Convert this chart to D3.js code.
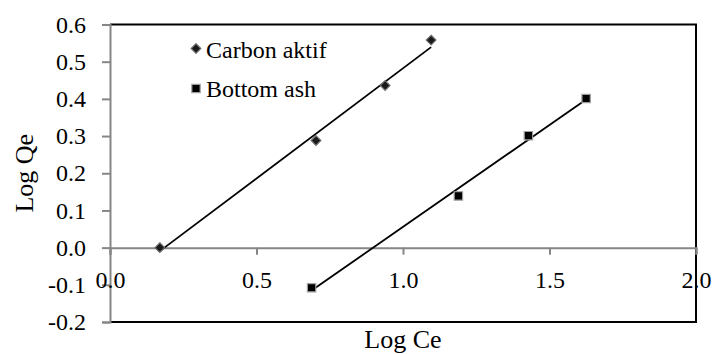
<!DOCTYPE html>
<html>
<head>
<meta charset="utf-8">
<script src="https://cdn.jsdelivr.net/npm/d3@7"></script>
<style>
  html, body { margin: 0; padding: 0; background: #fff; }
  svg text { fill: #000; }
</style>
</head>
<body>
<div id="chart"></div>
<script>
// Log Ce / Log Qe points
const carbonX = [0.17, 0.703, 0.939, 1.096];
const carbonY = [0.0, 0.288, 0.436, 0.558];
const ashX = [0.688, 1.189, 1.428, 1.625];
const ashY = [-0.108, 0.139, 0.301, 0.401];
const seriesNames = ["Carbon aktif", "Bottom ash"];
const xTicks = [0.0, 0.5, 1.0, 1.5, 2.0];
const yTicks = [-0.2, -0.1, 0.0, 0.1, 0.2, 0.3, 0.4, 0.5, 0.6];

(function() {
  const fullW = 713, fullH = 354;
  const left = 110, right = 696, top = 24.5, bottom = 322;
  const FONT = "'Liberation Serif', 'Times New Roman', serif";

  const svg = d3.select("#chart").append("svg")
    .attr("width", fullW).attr("height", fullH)
    .style("font-family", FONT);

  const x = d3.scaleLinear().domain([0, 2]).range([left, right]);
  const y = d3.scaleLinear().domain([-0.2, 0.6]).range([bottom, top]);
  // plain hyphen for negatives, like the original
  const fmt = v => d3.format(".1f")(v).replace("\u2212", "-");

  // frame: top, right, bottom in black
  svg.append("path")
    .attr("d", `M${left},${top}H${right}V${bottom}H${left}`)
    .attr("fill", "none").attr("stroke", "#000").attr("stroke-width", 2);

  function styleAxis(ax) {
    ax.select(".domain").attr("stroke", "#868686").attr("stroke-width", 2);
    ax.selectAll(".tick line").attr("stroke", "#868686").attr("stroke-width", 2);
    ax.selectAll(".tick text")
      .style("font-family", FONT)
      .style("font-size", "24px")
      .attr("fill", "#000");
  }

  // y axis (gray)
  const yAxis = svg.append("g")
    .attr("transform", `translate(${left},0)`)
    .call(d3.axisLeft(y).tickValues(yTicks).tickFormat(fmt).tickSize(8).tickPadding(16));
  styleAxis(yAxis);

  // x axis at y = 0 (gray), labels below
  const xAxis = svg.append("g")
    .attr("transform", `translate(0,${y(0)})`)
    .call(d3.axisBottom(x).tickValues(xTicks).tickFormat(fmt).tickSize(7).tickPadding(16));
  styleAxis(xAxis);

  // axis titles
  svg.append("text")
    .attr("x", 403).attr("y", 348)
    .attr("text-anchor", "middle")
    .style("font-size", "26px")
    .text("Log Ce");

  svg.append("text")
    .attr("transform", `translate(33,${(top + bottom) / 2}) rotate(-90)`)
    .attr("text-anchor", "middle")
    .style("font-size", "26px")
    .text("Log Qe");

  // linear trendlines from least squares fit
  function fit(xs, ys) {
    const mx = d3.mean(xs), my = d3.mean(ys);
    let sxy = 0, sxx = 0;
    xs.forEach((v, i) => { sxy += (v - mx) * (ys[i] - my); sxx += (v - mx) * (v - mx); });
    const b = sxy / sxx, a = my - b * mx;
    const x0 = d3.min(xs), x1 = d3.max(xs);
    return [[x0, a + b * x0], [x1, a + b * x1]];
  }

  const line = d3.line().x(d => x(d[0])).y(d => y(d[1]));
  [[carbonX, carbonY], [ashX, ashY]].forEach(([xs, ys]) => {
    svg.append("path")
      .attr("d", line(fit(xs, ys)))
      .attr("fill", "none").attr("stroke", "#000").attr("stroke-width", 1.8);
  });

  const diamond = d3.symbol().type(d3.symbolDiamond2).size(60);
  const square = d3.symbol().type(d3.symbolSquare).size(70);

  svg.append("g").selectAll("path")
    .data(carbonX.map((v, i) => [v, carbonY[i]]))
    .join("path")
    .attr("transform", d => `translate(${x(d[0])},${y(d[1])})`)
    .attr("d", diamond)
    .attr("fill", "#1a1a1a").attr("stroke", "#707070").attr("stroke-width", 1.2);

  svg.append("g").selectAll("path")
    .data(ashX.map((v, i) => [v, ashY[i]]))
    .join("path")
    .attr("transform", d => `translate(${x(d[0])},${y(d[1])})`)
    .attr("d", square)
    .attr("fill", "#000").attr("stroke", "#a0a0a0").attr("stroke-width", 1.2);

  // legend
  const lg = svg.append("g");
  lg.append("path").attr("transform", "translate(196,48.5)").attr("d", diamond)
    .attr("fill", "#1a1a1a").attr("stroke", "#707070").attr("stroke-width", 1.2);
  lg.append("text").attr("x", 206).attr("y", 58).style("font-size", "24px").text(seriesNames[0]);
  lg.append("path").attr("transform", "translate(196,88.5)").attr("d", square)
    .attr("fill", "#000").attr("stroke", "#a0a0a0").attr("stroke-width", 1.2);
  lg.append("text").attr("x", 206).attr("y", 97).style("font-size", "24px").text(seriesNames[1]);
})();
</script>
</body>
</html>
